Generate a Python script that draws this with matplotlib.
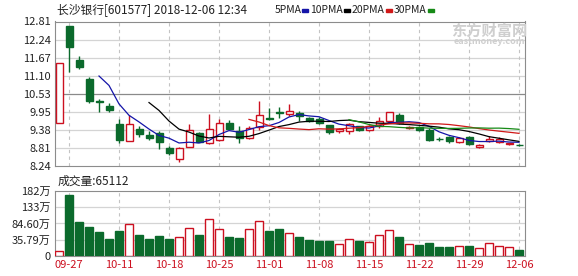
import numpy as np
import pandas as pd
import matplotlib
matplotlib.use("Agg")
import matplotlib.pyplot as plt

plt.rcParams['font.family'] = ['Noto Sans CJK SC', 'DejaVu Sans']

# daily data, 601577 (listed 2018-09-26)
dates = ['09-26', '09-27', '09-28', '10-08', '10-09', '10-10', '10-11', '10-12',
         '10-15', '10-16', '10-17', '10-18', '10-19', '10-22', '10-23', '10-24',
         '10-25', '10-26', '10-29', '10-30', '10-31', '11-01', '11-02', '11-05',
         '11-06', '11-07', '11-08', '11-09', '11-12', '11-13', '11-14', '11-15',
         '11-16', '11-19', '11-20', '11-21', '11-22', '11-23', '11-26', '11-27',
         '11-28', '11-29', '11-30', '12-03', '12-04', '12-05', '12-06']
opens = [9.59, 12.66, 11.60, 10.99, 10.30, 10.14, 9.56, 9.02, 9.41, 9.22, 9.28, 8.82,
         8.45, 8.83, 9.28, 8.96, 9.05, 9.60, 9.35, 9.11, 9.47, 9.77, 9.96, 9.88,
         9.93, 9.75, 9.72, 9.53, 9.36, 9.36, 9.49, 9.38, 9.51, 9.65, 9.85, 9.44,
         9.47, 9.38, 9.10, 9.16, 9.00, 9.15, 8.85, 9.03, 9.00, 8.93, 8.91]
highs = [11.51, 12.66, 11.73, 11.06, 10.36, 10.23, 9.73, 9.84, 9.49, 9.35, 9.35, 8.87,
         8.85, 9.56, 9.30, 9.89, 9.74, 9.68, 9.50, 9.50, 10.30, 10.09, 10.12, 10.20,
         9.99, 9.80, 9.78, 9.55, 9.43, 9.60, 9.52, 9.55, 9.79, 9.95, 9.91, 9.50,
         9.50, 9.45, 9.16, 9.18, 9.16, 9.20, 8.92, 9.20, 9.15, 8.98, 8.93]
lows = [9.59, 11.20, 11.32, 10.23, 9.94, 9.96, 8.98, 9.02, 9.17, 9.07, 8.78, 8.59,
        8.38, 8.83, 8.99, 8.93, 9.02, 9.40, 8.98, 9.08, 9.38, 9.70, 9.75, 9.81,
        9.65, 9.62, 9.58, 9.26, 9.27, 9.26, 9.36, 9.35, 9.44, 9.63, 9.57, 9.42,
        9.35, 9.02, 9.02, 8.96, 8.96, 8.91, 8.82, 9.00, 8.96, 8.90, 8.87]
closes = [11.51, 11.99, 11.36, 10.31, 10.26, 10.02, 9.07, 9.56, 9.26, 9.13, 9.01, 8.64,
          8.80, 9.38, 9.01, 9.40, 9.59, 9.42, 9.12, 9.43, 9.86, 9.74, 9.93, 9.99,
          9.81, 9.65, 9.61, 9.33, 9.42, 9.56, 9.38, 9.51, 9.67, 9.95, 9.59, 9.48,
          9.38, 9.07, 9.09, 9.03, 9.11, 8.94, 8.90, 9.09, 9.09, 8.97, 8.90]
# volume in 万手
volumes = [1.5, 170, 90, 75, 60, 38.6, 63, 83.4, 50.8, 38.6, 47.8, 38.6, 44.7, 72.2,
           50.8, 96.6, 69.1, 44.7, 41.7, 69.1, 93.5, 63, 69.1, 56.9, 42.6, 36.5,
           32.5, 32.5, 23.4, 38.6, 32.5, 29.5, 50.8, 66.1, 42.6, 23.4, 20.3, 26.4,
           14.2, 14.2, 17.3, 17.3, 11.2, 26.4, 17.3, 14.2, 6.5]

label_dates = ['09-27', '10-11', '10-18', '10-25', '11-01', '11-08', '11-15',
               '11-22', '11-29', '12-06']
price_ticks = [12.81, 12.24, 11.67, 11.10, 10.53, 9.95, 9.38, 8.81, 8.24]
vol_ticks = [182, 133, 84.60, 35.79]
vol_tick_labels = ['182万', '133万', '84.60万', '35.79万']

ma_windows = [5, 10, 20, 30]
ma_colors = ['#1414a8', '#000000', '#d01818', '#168a16']

RED = '#cc1020'
GREEN = '#0b6a2c'
GRID = '#d4d4d4'
FRAME = '#8c8c8c'

x = np.arange(len(dates))
o = np.array(opens); c = np.array(closes)
up = c >= o

fig = plt.figure(figsize=(5.78, 2.76), dpi=100)
ax = fig.add_axes([55 / 578, 1 - 166 / 276, 470 / 578, 144.5 / 276])
axv = fig.add_axes([55 / 578, 1 - 256 / 276, 470 / 578, 65 / 276])

# ---- price panel
ax.set_xlim(-0.4, len(dates) - 0.4)
ax.set_ylim(price_ticks[-1], price_ticks[0])
for t in price_ticks[1:-1]:
    ax.axhline(t, color='#8a8a8a' if t == 10.53 else GRID, lw=0.9, zorder=0)
grid_x = [dates.index(d) for d in label_dates]
for gx in grid_x:
    ax.axvline(gx, color='#c4c4c4', lw=0.8, ls=(0, (3, 3)), zorder=0)
    axv.axvline(gx, color='#c4c4c4', lw=0.8, ls=(0, (3, 3)), zorder=0)

cols = np.where(up, RED, GREEN)
ax.vlines(x, lows, highs, colors=cols, lw=1.0, zorder=2)
body_lo = np.minimum(o, c)
body_h = np.maximum(np.abs(c - o), 0.012)
ax.bar(x, body_h, bottom=body_lo, width=0.7,
       color=np.where(up, 'white', GREEN), edgecolor=cols, linewidth=1.0, zorder=3)

close_s = pd.Series(closes)
for w, col in zip(ma_windows, ma_colors):
    ax.plot(x, close_s.rolling(w).mean(), color=col, lw=0.9, zorder=4)

ax.set_yticks(price_ticks)
ax.set_yticklabels(['%.2f' % t for t in price_ticks])
ax.set_xticks([])
ax.tick_params(axis='y', length=0, pad=3, labelsize=8, labelcolor='#222222')
for s in ax.spines.values():
    s.set_color(FRAME)

# ---- volume panel
vbot = vol_ticks[0] - 4 * (vol_ticks[0] - vol_ticks[-1]) / 3
axv.set_xlim(-0.4, len(dates) - 0.4)
axv.set_ylim(vbot, vol_ticks[0])
for t in vol_ticks[1:]:
    axv.axhline(t, color=GRID, lw=0.9, zorder=0)
v = np.array(volumes)
axv.bar(x, v - vbot, bottom=vbot, width=0.72,
        color=np.where(up, 'white', GREEN), edgecolor=cols, linewidth=1.0, zorder=3)
axv.set_yticks([vbot] + vol_ticks[::-1])
axv.set_yticklabels(['0'] + vol_tick_labels[::-1])
axv.set_xticks(grid_x)
axv.set_xticklabels(label_dates)
axv.tick_params(axis='y', length=0, pad=3, labelsize=8, labelcolor='#222222')
axv.tick_params(axis='x', length=0, pad=3, labelsize=8, labelcolor=RED)
for s in axv.spines.values():
    s.set_color(FRAME)

# ---- texts
fig.text(57 / 578, 1 - 10 / 276, '长沙银行[601577] 2018-12-06 12:34', fontsize=8.5,
         va='center', ha='left', color='#222222')
lx = 275
for w, col in zip(ma_windows, ma_colors):
    t = fig.text(lx / 578, 1 - 10 / 276, '%dPMA' % w, fontsize=7.5, va='center',
                 ha='left', color='#222222')
    fig.patches.append(plt.Rectangle(((lx + (27 if w == 5 else 34)) / 578, 1 - 12 / 276),
                                     6 / 578, 3 / 276, transform=fig.transFigure,
                                     color=col, figure=fig))
    lx += 35 if w == 5 else 42
fig.text(58 / 578, 1 - 181 / 276, '成交量:65112', fontsize=8.5, va='center',
         ha='left', color='#222222')

# watermark
fig.text(489 / 578, 1 - 31 / 276, '东方财富网', fontsize=11, va='center', ha='center',
         color='#cfcfcf', fontweight='bold', zorder=1)
fig.text(489 / 578, 1 - 42 / 276, 'eastmoney.com', fontsize=6.5, va='center',
         ha='center', color='#cfcfcf', fontweight='bold', zorder=1)

fig.savefig('out.png', dpi=100)
